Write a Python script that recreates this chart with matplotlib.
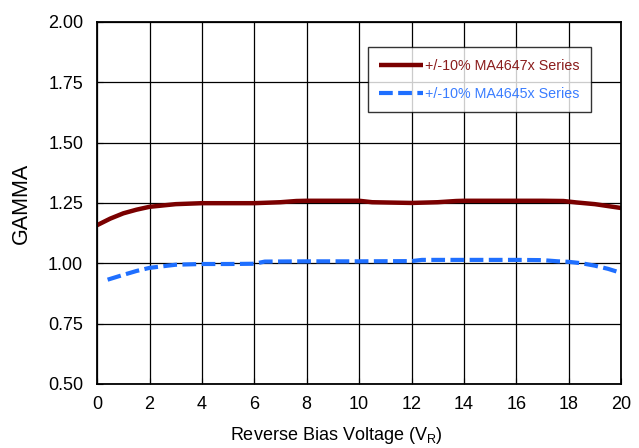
import numpy as np
import matplotlib.pyplot as plt

plt.rcParams['font.family'] = ['Liberation Sans', 'DejaVu Sans']

x_4647 = [0, 0.5, 1, 1.5, 2, 3, 4, 5, 6, 7, 7.6, 8, 9, 10, 10.5, 11, 12, 13, 13.7, 14, 15, 16, 17, 17.8, 18.3, 19, 19.5, 20]
g_4647 = [1.158, 1.185, 1.207, 1.222, 1.234, 1.245, 1.249, 1.249, 1.249, 1.253, 1.258, 1.259, 1.259, 1.259, 1.253, 1.252, 1.250, 1.253, 1.258, 1.259, 1.259, 1.259, 1.259, 1.258, 1.252, 1.245, 1.237, 1.229]

x_4645 = [0.4, 1, 1.5, 2, 3, 4, 5, 6, 6.4, 8, 10, 12, 12.4, 14, 16, 17, 17.6, 18, 18.5, 19, 19.5, 20]
g_4645 = [0.932, 0.952, 0.968, 0.981, 0.994, 0.997, 0.997, 0.998, 1.007, 1.008, 1.008, 1.009, 1.014, 1.014, 1.014, 1.013, 1.008, 1.006, 1.000, 0.990, 0.977, 0.960]

xticks = np.arange(0, 21, 2)
yticks = np.arange(0.5, 2.01, 0.25)

fig = plt.figure(figsize=(6.39, 4.48), dpi=100)
ax = fig.add_axes([0.152, 0.143, 0.82, 0.808])

ax.plot(x_4647, g_4647, color='#7a0000', lw=3.2, label='+/-10% MA4647x Series', solid_capstyle='butt')
ax.plot(x_4645, g_4645, color='#1f6fff', lw=3.0, dashes=(3.3, 1.3), label='+/-10% MA4645x Series')

ax.set_xlim(0, 20)
ax.set_ylim(0.5, 2.0)
ax.set_xticks(xticks)
ax.set_yticks(yticks)
ax.set_yticklabels(['%.2f' % v for v in yticks])
ax.grid(True, color='black', lw=0.9)
ax.set_axisbelow(True)
ax.tick_params(direction='in', length=4, labelsize=13, colors='black')
ax.tick_params(axis='x', pad=9)
ax.tick_params(axis='y', pad=10)
for s in ax.spines.values():
    s.set_linewidth(1.3)

ax.set_xlabel('Reverse Bias Voltage (V$\\mathregular{_R}$)', fontsize=13, labelpad=8)
ax.xaxis.label.set_x(0.456)
ax.set_ylabel('GAMMA', fontsize=15.5, labelpad=12)

leg = ax.legend(loc='upper right', bbox_to_anchor=(0.942, 0.93), fontsize=10.3, frameon=True,
                fancybox=False, edgecolor='black', handlelength=3.1, handletextpad=0.1,
                borderpad=0.8, labelspacing=1.0, borderaxespad=0)
leg.get_frame().set_linewidth(1.0)
leg.get_texts()[0].set_color('#8a1c1c')
leg.get_texts()[1].set_color('#3a7dff')

fig.savefig('out.png', dpi=100)
